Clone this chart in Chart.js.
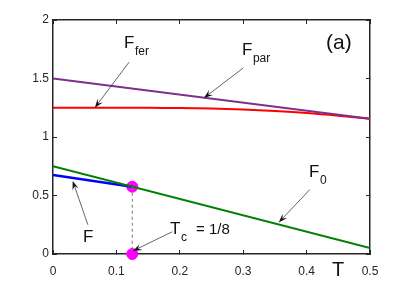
<!DOCTYPE html>
<html>
<head>
<meta charset="utf-8">
<script src="https://cdn.jsdelivr.net/npm/chart.js@4.4.0/dist/chart.umd.min.js"></script>
<style>
  html, body { margin: 0; padding: 0; background: #fff; }
  canvas { display: block; }
</style>
</head>
<body>
<canvas id="chart" width="409" height="286"></canvas>
<script>
// data
var xTicks = [0, 0.1, 0.2, 0.3, 0.4, 0.5];
var yTicks = [0, 0.5, 1, 1.5, 2];

var T_par = [0, 0.5];
var F_par = [1.5, 1.155];

var T_fer = [0, 0.05, 0.1, 0.15, 0.2, 0.25, 0.3, 0.35, 0.4, 0.45, 0.5];
var F_fer = [1.25, 1.25, 1.25, 1.249, 1.247, 1.243, 1.235, 1.222, 1.205, 1.182, 1.155];

var T_zero = [0, 0.5];
var F_zero = [0.75, 0.05];

var T_F = [0, 0.125];
var F_F = [0.675, 0.575];

var T_crit = [0.125, 0.125];
var F_crit = [0.575, 0];

function pts(xs, ys) {
  return xs.map(function(x, i) { return { x: x, y: ys[i] }; });
}

var axisColor = '#262626';
var fontFam = '"Liberation Sans", Arial, sans-serif';

// arrows: [tailT, tailF, headT, headF]
var arrows = [
  [0.12, 1.64, 0.066, 1.25],
  [0.300, 1.59, 0.238, 1.333],
  [0.055, 0.25, 0.031, 0.625],
  [0.188, 0.19, 0.126, 0.026],
  [0.405, 0.55, 0.356, 0.27]
];

function drawArrow(ctx, x1, y1, x2, y2) {
  var a = Math.atan2(y2 - y1, x2 - x1);
  var len = 9, w = 3.2;
  ctx.strokeStyle = '#222';
  ctx.lineWidth = 0.7;
  ctx.beginPath();
  ctx.moveTo(x1, y1);
  ctx.lineTo(x2 - Math.cos(a) * len * 0.6, y2 - Math.sin(a) * len * 0.6);
  ctx.stroke();
  ctx.fillStyle = '#111';
  ctx.beginPath();
  ctx.moveTo(x2, y2);
  ctx.lineTo(x2 - len * Math.cos(a) + w * Math.sin(a), y2 - len * Math.sin(a) - w * Math.cos(a));
  ctx.lineTo(x2 - len * 0.6 * Math.cos(a), y2 - len * 0.6 * Math.sin(a));
  ctx.lineTo(x2 - len * Math.cos(a) - w * Math.sin(a), y2 - len * Math.sin(a) + w * Math.cos(a));
  ctx.closePath();
  ctx.fill();
}

function label(ctx, x, y, main, sub) {
  ctx.fillStyle = '#111';
  ctx.textBaseline = 'middle';
  ctx.textAlign = 'left';
  ctx.font = '17px ' + fontFam;
  ctx.fillText(main, x, y);
  if (sub) {
    var w = ctx.measureText(main).width;
    ctx.font = '12px ' + fontFam;
    ctx.fillText(sub, x + w + 0.5, y + 9);
  }
}

var notesPlugin = {
  id: 'notes',
  afterDatasetsDraw: function(chart) {
    var ctx = chart.ctx;
    var xs = chart.scales.x, ys = chart.scales.y;
    ctx.save();
    arrows.forEach(function(r) {
      drawArrow(ctx, xs.getPixelForValue(r[0]), ys.getPixelForValue(r[1]),
                     xs.getPixelForValue(r[2]), ys.getPixelForValue(r[3]));
    });
    label(ctx, 124, 43, 'F', 'fer');
    label(ctx, 242, 50, 'F', 'par');
    label(ctx, 83, 237, 'F');
    label(ctx, 309, 172, 'F', '0');
    label(ctx, 170, 229, 'T', 'c');
    ctx.font = '15px ' + fontFam;
    ctx.fillText('= 1/8', 196, 230);
    ctx.font = '21px ' + fontFam;
    ctx.fillText('(a)', 326, 43);
    ctx.font = '20px ' + fontFam;
    ctx.textAlign = 'center';
    ctx.fillText('T', 338, 270);
    ctx.restore();
  }
};

function setTicks(list) {
  return function(s) { s.ticks = list.map(function(v) { return { value: v }; }); };
}

var gridOpts = { display: true, drawOnChartArea: false, drawTicks: true, tickLength: -4,
                 color: axisColor, lineWidth: 1 };
var borderOpts = { display: true, color: axisColor, width: 1.5 };

new Chart(document.getElementById('chart'), {
  type: 'scatter',
  data: {
    datasets: [
      { data: pts(T_crit, F_crit), showLine: true, borderColor: '#777', borderWidth: 1,
        borderDash: [3, 3], pointRadius: 0 },
      { data: pts(T_par, F_par), showLine: true, borderColor: '#7E2F8E', borderWidth: 2, pointRadius: 0 },
      { data: pts(T_fer, F_fer), showLine: true, borderColor: '#FF0000', borderWidth: 2, pointRadius: 0, tension: 0.3 },
      { data: pts(T_zero, F_zero), showLine: true, borderColor: '#008000', borderWidth: 2, pointRadius: 0 },
      { data: pts(T_F, F_F), showLine: true, borderColor: '#0000FF', borderWidth: 2.5, pointRadius: 0 },
      { data: pts(T_crit, F_crit), showLine: false, pointRadius: 5.5, pointBackgroundColor: '#FF00FF',
        pointBorderColor: '#FF00FF', clip: false }
    ]
  },
  options: {
    responsive: false,
    animation: false,
    layout: { padding: { left: 0, right: 37, top: 18, bottom: 0 } },
    plugins: { legend: { display: false }, tooltip: { enabled: false } },
    scales: {
      x: {
        type: 'linear', position: 'bottom', min: 0, max: 0.5,
        afterBuildTicks: setTicks(xTicks),
        afterFit: function(s) { s.height = 32; },
        grid: gridOpts,
        border: borderOpts,
        ticks: { padding: 14, color: axisColor, maxRotation: 0,
                 callback: function(v) { return String(v); },
                 font: { family: fontFam, size: 12 } }
      },
      x2: {
        type: 'linear', position: 'top', min: 0, max: 0.5,
        afterBuildTicks: setTicks(xTicks),
        afterFit: function(s) { s.height = 2; },
        grid: gridOpts,
        border: borderOpts,
        ticks: { display: true, color: 'rgba(0,0,0,0)', padding: 0, font: { size: 1 },
                 callback: function() { return ''; } }
      },
      y: {
        type: 'linear', position: 'left', min: 0, max: 2,
        afterBuildTicks: setTicks(yTicks),
        afterFit: function(s) { s.width = 53; },
        grid: gridOpts,
        border: borderOpts,
        ticks: { padding: 8, color: axisColor,
                 callback: function(v) { return String(v); },
                 font: { family: fontFam, size: 12 } }
      },
      y2: {
        type: 'linear', position: 'right', min: 0, max: 2,
        afterBuildTicks: setTicks(yTicks),
        afterFit: function(s) { s.width = 2; },
        grid: gridOpts,
        border: borderOpts,
        ticks: { display: true, color: 'rgba(0,0,0,0)', padding: 0, font: { size: 1 },
                 callback: function() { return ''; } }
      }
    }
  },
  plugins: [notesPlugin]
});
</script>
</body>
</html>
